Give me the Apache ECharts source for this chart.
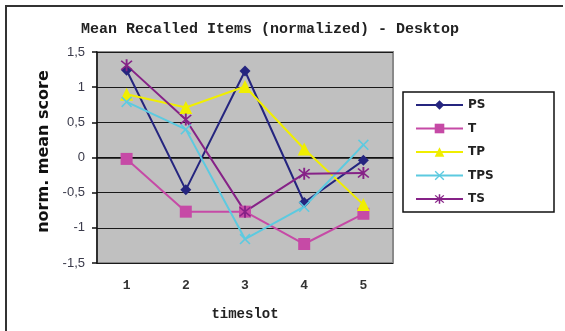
<!DOCTYPE html>
<html>
<head>
<meta charset="utf-8">
<script src="https://cdn.jsdelivr.net/npm/echarts@6/dist/echarts.min.js"></script>
<style>
  html, body { margin: 0; padding: 0; background: #fff; }
  #chart { width: 565px; height: 331px; }
</style>
</head>
<body>
<div id="chart"></div>
<script>
// Time slots and normalized mean recall scores per condition
const timeslots = ['1', '2', '3', '4', '5'];
const PS  = [1.24, -0.46, 1.23, -0.64, -0.04];
const T   = [-0.02, -0.77, -0.77, -1.23, -0.80];
const TP  = [0.90, 0.71, 1.01, 0.12, -0.67];
const TPS = [0.79, 0.40, -1.16, -0.70, 0.18];
const TS  = [1.31, 0.54, -0.77, -0.23, -0.22];
const yTicks = { min: -1.5, max: 1.5, step: 0.5 };

// Custom marker shapes: a cross and an asterisk (cross plus vertical bar)
const crossPath = 'path://M1,0L5,4L9,0L10,1L6,5L10,9L9,10L5,6L1,10L0,9L4,5L0,1Z';
const starPath = 'path://M1,0L5,4L9,0L10,1L6,5L10,9L9,10L5,6L1,10L0,9L4,5L0,1Z' +
                 'M4.2,-1L5.8,-1L5.8,11L4.2,11Z';

const seriesDefs = [
  { name: 'PS',  data: PS,  color: '#25257f', symbol: 'diamond',  size: 11 },
  { name: 'T',   data: T,   color: '#c64aa6', symbol: 'rect',     size: 12 },
  { name: 'TP',  data: TP,  color: '#f0ee00', symbol: 'triangle', size: 13 },
  { name: 'TPS', data: TPS, color: '#5ccae0', symbol: crossPath,  size: 11 },
  { name: 'TS',  data: TS,  color: '#862287', symbol: starPath,   size: 12 }
];

const chart = echarts.init(document.getElementById('chart'));

chart.setOption({
  animation: false,
  backgroundColor: '#ffffff',
  title: {
    text: 'Mean Recalled Items (normalized) - Desktop',
    left: 265,
    top: 17,
    textAlign: 'center',
    textStyle: {
      fontFamily: 'Liberation Mono',
      fontWeight: 'bold',
      fontSize: 15,
      color: '#222'
    }
  },
  grid: {
    left: 97,
    right: 172,
    top: 52,
    bottom: 68,
    show: true,
    backgroundColor: '#c0c0c0',
    borderColor: '#8a8a8a',
    borderWidth: 2
  },
  legend: {
    orient: 'vertical',
    left: 410,
    top: 94,
    itemWidth: 47,
    itemHeight: 12,
    itemGap: 11.5,
    textStyle: {
      fontFamily: 'DejaVu Sans',
      fontWeight: 'bold',
      fontSize: 12,
      color: '#222'
    },
    data: seriesDefs.map(s => s.name)
  },
  graphic: [
    {
      type: 'polyline',
      shape: { points: [[6, 331], [6, 6], [563, 6]] },
      style: { stroke: '#333', lineWidth: 2, fill: null },
      silent: true
    },
    {
      type: 'rect',
      shape: { x: 403, y: 92, width: 151, height: 120 },
      style: { fill: '#fff', stroke: '#111', lineWidth: 1.5 },
      z: -1,
      silent: true
    }
  ],
  xAxis: {
    type: 'category',
    data: timeslots,
    boundaryGap: true,
    name: 'timeslot',
    nameLocation: 'middle',
    nameGap: 44,
    nameTextStyle: {
      fontFamily: 'Liberation Mono',
      fontWeight: 'bold',
      fontSize: 14,
      color: '#222'
    },
    axisLine: { lineStyle: { color: '#111', width: 1.5 } },
    axisTick: { length: 5, lineStyle: { color: '#111', width: 1.5 } },
    axisLabel: {
      margin: 16,
      fontFamily: 'Liberation Mono',
      fontWeight: 'bold',
      fontSize: 13,
      color: '#333'
    },
    splitLine: { show: false }
  },
  yAxis: {
    type: 'value',
    min: yTicks.min,
    max: yTicks.max,
    interval: yTicks.step,
    name: 'norm. mean score',
    nameLocation: 'middle',
    nameRotate: 90,
    nameGap: 45,
    nameTextStyle: {
      fontFamily: 'DejaVu Sans',
      fontWeight: 'bold',
      fontSize: 16,
      color: '#111',
      padding: [0, 0, 0, 12]
    },
    axisLine: { show: true, lineStyle: { color: '#111', width: 1.5 } },
    axisTick: { show: true, length: 5, lineStyle: { color: '#111', width: 1.5 } },
    axisLabel: {
      margin: 12,
      fontFamily: 'Liberation Sans',
      fontSize: 13,
      color: '#3a3a4a',
      formatter: v => String(Math.round(v * 10) / 10).replace('.', ',')
    },
    splitLine: { show: true, lineStyle: { color: '#1a1a1a', width: 1.2 } }
  },
  series: seriesDefs.map(s => ({
    name: s.name,
    type: 'line',
    data: s.data,
    symbol: s.symbol,
    symbolSize: s.size,
    showAllSymbol: true,
    color: s.color,
    lineStyle: { color: s.color, width: 2 },
    itemStyle: { color: s.color, borderWidth: 0 }
  }))
});
</script>
</body>
</html>
